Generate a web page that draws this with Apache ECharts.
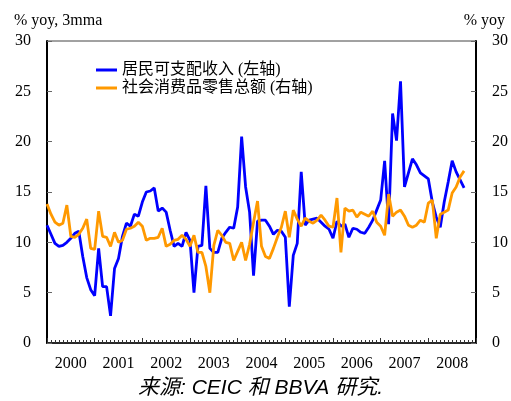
<!DOCTYPE html>
<html>
<head>
<meta charset="utf-8">
<script src="https://cdn.jsdelivr.net/npm/echarts@6/dist/echarts.min.js"></script>
<style>html,body{margin:0;padding:0;background:#fff;}</style>
</head>
<body>
<div id="main" style="width:511px;height:401px;"></div>
<script>
// monthly, Jan 2000 onwards
var yearLabels = ['2000', '2001', '2002', '2003', '2004', '2005', '2006', '2007', '2008'];

// 居民可支配收入, % yoy 3mma (left axis)
var income = [11.7, 10.8, 9.9, 9.6, 9.7, 10.0, 10.4, 10.9, 11.1, 8.6, 6.5, 5.3,
  4.7, 9.4, 5.6, 5.6, 2.7, 7.4, 8.4, 10.6, 11.9, 11.6, 12.8, 12.6,
  14.0, 15.0, 15.1, 15.4, 13.1, 13.4, 13.0, 11.2, 9.6, 9.9, 9.6, 11.0,
  10.2, 5.0, 9.6, 9.7, 15.6, 9.4, 9.0, 9.0, 10.4, 11.0, 11.5, 11.4,
  13.5, 20.5, 15.5, 13.0, 6.7, 12.1, 12.2, 12.2, 11.6, 10.8, 11.2, 11.1,
  10.5, 3.6, 8.7, 9.9, 17.0, 11.7, 12.2, 12.3, 12.4, 12.0, 11.6, 11.3,
  10.4, 12.1, 11.6, 11.8, 10.5, 11.4, 11.3, 11.0, 10.9, 11.5, 12.2, 13.2,
  14.2, 18.1, 11.8, 22.8, 20.1, 26.0, 15.5, 16.9, 18.3, 17.7, 16.9, 16.6,
  16.3, 14.0, 12.5, 11.5, 14.0, 16.0, 18.1, 17.0, 16.2, 15.4];

// 社会消费品零售总额, % yoy (right axis)
var retail = [13.8, 12.8, 12.0, 11.7, 11.9, 13.7, 10.6, 10.5, 10.8, 11.4, 12.3, 9.4,
  9.3, 13.1, 10.6, 10.5, 9.6, 11.0, 10.0, 10.2, 11.3, 11.4, 11.6, 12.0,
  11.6, 10.2, 10.4, 10.4, 10.5, 11.4, 9.6, 9.8, 10.2, 10.3, 10.7, 10.3,
  9.6, 10.7, 9.0, 9.0, 7.6, 5.0, 9.7, 11.2, 10.7, 10.0, 9.9, 8.2,
  9.1, 10.0, 8.2, 9.8, 12.0, 14.1, 9.6, 8.6, 8.4, 9.4, 10.5, 11.5,
  13.1, 10.5, 13.2, 12.3, 11.6, 12.4, 12.1, 11.9, 12.2, 12.7, 12.2, 11.6,
  11.5, 14.4, 9.0, 13.4, 13.1, 13.2, 12.5, 13.0, 12.8, 12.6, 13.1, 12.0,
  11.6, 10.7, 14.8, 12.6, 13.0, 13.2, 12.6, 11.7, 11.5, 11.7, 12.2, 12.0,
  13.9, 14.2, 10.4, 12.8, 13.0, 13.2, 14.9, 15.5, 16.5, 17.1];

var serif = '"Liberation Serif", "Times New Roman", "Noto Sans CJK SC", serif';

function pairs(arr) {
  return arr.map(function (v, i) { return [i, v]; });
}

// year labels sit mid-year
var yearMid = yearLabels.map(function (y, i) { return i * 12 + 6; });

var chart = echarts.init(document.getElementById('main'));

var yAxisBase = {
  type: 'value',
  min: 0,
  max: 30,
  interval: 5,
  axisLine: { show: true, lineStyle: { color: '#000', width: 2 } },
  axisTick: { show: true, inside: true, length: 5, lineStyle: { color: '#666' } },
  axisLabel: { color: '#000', fontFamily: serif, fontSize: 16, margin: 16 },
  splitLine: { show: false }
};

var option = {
  backgroundColor: '#fff',
  animation: false,
  grid: { left: 47, right: 34, top: 41, bottom: 58, show: true, borderColor: '#444', borderWidth: 1 },
  legend: {
    orient: 'vertical',
    left: 91,
    top: 57,
    itemWidth: 21,
    itemHeight: 3,
    itemGap: 2,
    icon: 'rect',
    textStyle: { color: '#000', fontFamily: serif, fontSize: 16 },
    data: ['居民可支配收入 (左轴)', '社会消费品零售总额 (右轴)']
  },
  xAxis: {
    type: 'value',
    min: 0,
    max: 108,
    interval: 12,
    axisLine: { show: true, onZero: false, lineStyle: { color: '#000', width: 1.5 } },
    axisTick: { show: true, inside: true, length: 5, lineStyle: { color: '#333' } },
    minorTick: { show: true, splitNumber: 12, length: 3, lineStyle: { color: '#333' } },
    axisLabel: {
      customValues: yearMid,
      color: '#000', fontFamily: serif, fontSize: 16, margin: 13,
      formatter: function (v) { return yearLabels[(v - 6) / 12]; }
    },
    splitLine: { show: false },
    minorSplitLine: { show: false }
  },
  yAxis: [
    Object.assign({}, yAxisBase, { position: 'left' }),
    Object.assign({}, yAxisBase, { position: 'right' })
  ],
  graphic: [
    { type: 'text', left: 14, top: 13, style: { text: '% yoy, 3mma', font: '16px ' + serif, fill: '#000' } },
    { type: 'text', right: 6, top: 13, style: { text: '% yoy', font: '16px ' + serif, fill: '#000' } },
    { type: 'text', left: 138, top: 378, style: { text: '来源: CEIC 和 BBVA 研究.', font: 'italic 21px "Liberation Sans", Arial, "Noto Sans CJK SC", sans-serif', fill: '#000' } }
  ],
  series: [
    {
      name: '居民可支配收入 (左轴)',
      type: 'line',
      yAxisIndex: 0,
      showSymbol: false,
      data: pairs(income),
      lineStyle: { color: '#0000ff', width: 2.8 },
      itemStyle: { color: '#0000ff' }
    },
    {
      name: '社会消费品零售总额 (右轴)',
      type: 'line',
      yAxisIndex: 1,
      showSymbol: false,
      data: pairs(retail),
      lineStyle: { color: '#ff9900', width: 2.8 },
      itemStyle: { color: '#ff9900' }
    }
  ]
};

chart.setOption(option);
</script>
</body>
</html>
